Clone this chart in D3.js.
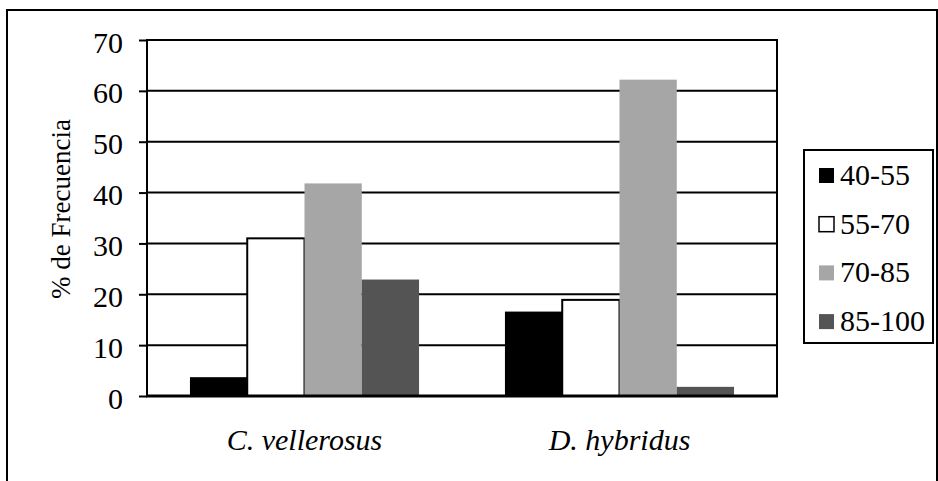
<!DOCTYPE html>
<html>
<head>
<meta charset="utf-8">
<script src="https://cdn.jsdelivr.net/npm/d3@7"></script>
</head>
<body style="margin:0; background:#fff">
<svg id="chart" width="938" height="481" font-family="Liberation Serif"></svg>
<script>
// data
const categories = ['C. vellerosus', 'D. hybridus'];
const seriesNames = ['40-55', '55-70', '70-85', '85-100'];
const seriesColors = ['#000000', '#ffffff', '#a6a6a6', '#545454'];
const values = [
  [3.7, 16.6],   // 40-55
  [31.0, 18.9],  // 55-70
  [41.8, 62.2],  // 70-85
  [22.9, 1.8]    // 85-100
];
const yTicks = [0, 10, 20, 30, 40, 50, 60, 70];

const FONT = '"Liberation Serif", serif';
const svg = d3.select('#chart');
const plot = { left: 147, right: 777, top: 40, bottom: 396 };

// outer frame
svg.append('rect')
  .attr('x', 7).attr('y', 10).attr('width', 930).attr('height', 490)
  .attr('fill', 'none').attr('stroke', '#000').attr('stroke-width', 2);

const y = d3.scaleLinear().domain([0, 70]).range([plot.bottom, plot.top]);
const x0 = d3.scaleBand().domain(categories).range([plot.left, plot.right]);
const x1 = d3.scaleBand().domain(seriesNames).range([0, x0.bandwidth()])
  .paddingInner(0).paddingOuter(0.75);

// gridlines
svg.append('g').selectAll('line').data(yTicks.slice(1)).join('line')
  .attr('x1', plot.left).attr('x2', plot.right)
  .attr('y1', d => y(d)).attr('y2', d => y(d))
  .attr('stroke', '#000').attr('stroke-width', 2);

// right border of plot area
svg.append('line')
  .attr('x1', plot.right).attr('x2', plot.right)
  .attr('y1', plot.top - 1).attr('y2', plot.bottom)
  .attr('stroke', '#000').attr('stroke-width', 2);

// bars
const rows = [];
seriesNames.forEach((s, i) => categories.forEach((c, j) => rows.push({ s, i, c, v: values[i][j] })));
svg.append('g').selectAll('rect').data(rows).join('rect')
  .attr('x', d => x0(d.c) + x1(d.s))
  .attr('y', d => y(d.v))
  .attr('width', x1.bandwidth())
  .attr('height', d => y(0) - y(d.v))
  .attr('fill', d => seriesColors[d.i])
  .attr('stroke', d => d.i === 1 ? '#000' : 'none')
  .attr('stroke-width', 2);

// y axis
const yAxis = svg.append('g')
  .attr('transform', `translate(${plot.left},0)`)
  .call(d3.axisLeft(y).tickValues(yTicks).tickSize(8).tickPadding(16));
yAxis.attr('font-family', null).attr('font-size', null);
yAxis.select('.domain').attr('stroke-width', 2).attr('d', `M0,${plot.top - 1}V${plot.bottom}`);
yAxis.selectAll('.tick line').attr('stroke-width', 2);
yAxis.selectAll('.tick text')
  .attr('dy', '0.4em')
  .attr('fill', '#000')
  .style('font-family', FONT)
  .style('font-size', '30px');

// x axis baseline
svg.append('line')
  .attr('x1', plot.left - 1).attr('x2', plot.right + 1)
  .attr('y1', plot.bottom).attr('y2', plot.bottom)
  .attr('stroke', '#000').attr('stroke-width', 3);

// category labels
svg.append('g').selectAll('text').data(categories).join('text')
  .attr('x', d => x0(d) + x0.bandwidth() / 2)
  .attr('y', 450)
  .attr('text-anchor', 'middle')
  .style('font-family', FONT)
  .style('font-style', 'italic')
  .style('font-size', '30px')
  .text(d => d);

// y title
svg.append('text')
  .attr('transform', 'translate(70,209) rotate(-90)')
  .attr('text-anchor', 'middle')
  .style('font-family', FONT)
  .style('font-size', '27px')
  .text('% de Frecuencia');

// legend
const legend = svg.append('g');
legend.append('rect')
  .attr('x', 804).attr('y', 150).attr('width', 129).attr('height', 193)
  .attr('fill', '#fff').attr('stroke', '#000').attr('stroke-width', 2);
const items = legend.selectAll('g.item').data(seriesNames).join('g')
  .attr('class', 'item')
  .attr('transform', (d, i) => `translate(818,${185 + i * 48.7})`);
items.append('rect')
  .attr('x', 1).attr('y', -17).attr('width', 15).attr('height', 15)
  .attr('fill', (d, i) => seriesColors[i])
  .attr('stroke', (d, i) => i === 1 ? '#000' : 'none')
  .attr('stroke-width', 1.5);
items.append('text')
  .attr('x', 22).attr('y', 0)
  .style('font-family', FONT)
  .style('font-size', '30px')
  .text(d => d);
</script>
</body>
</html>
